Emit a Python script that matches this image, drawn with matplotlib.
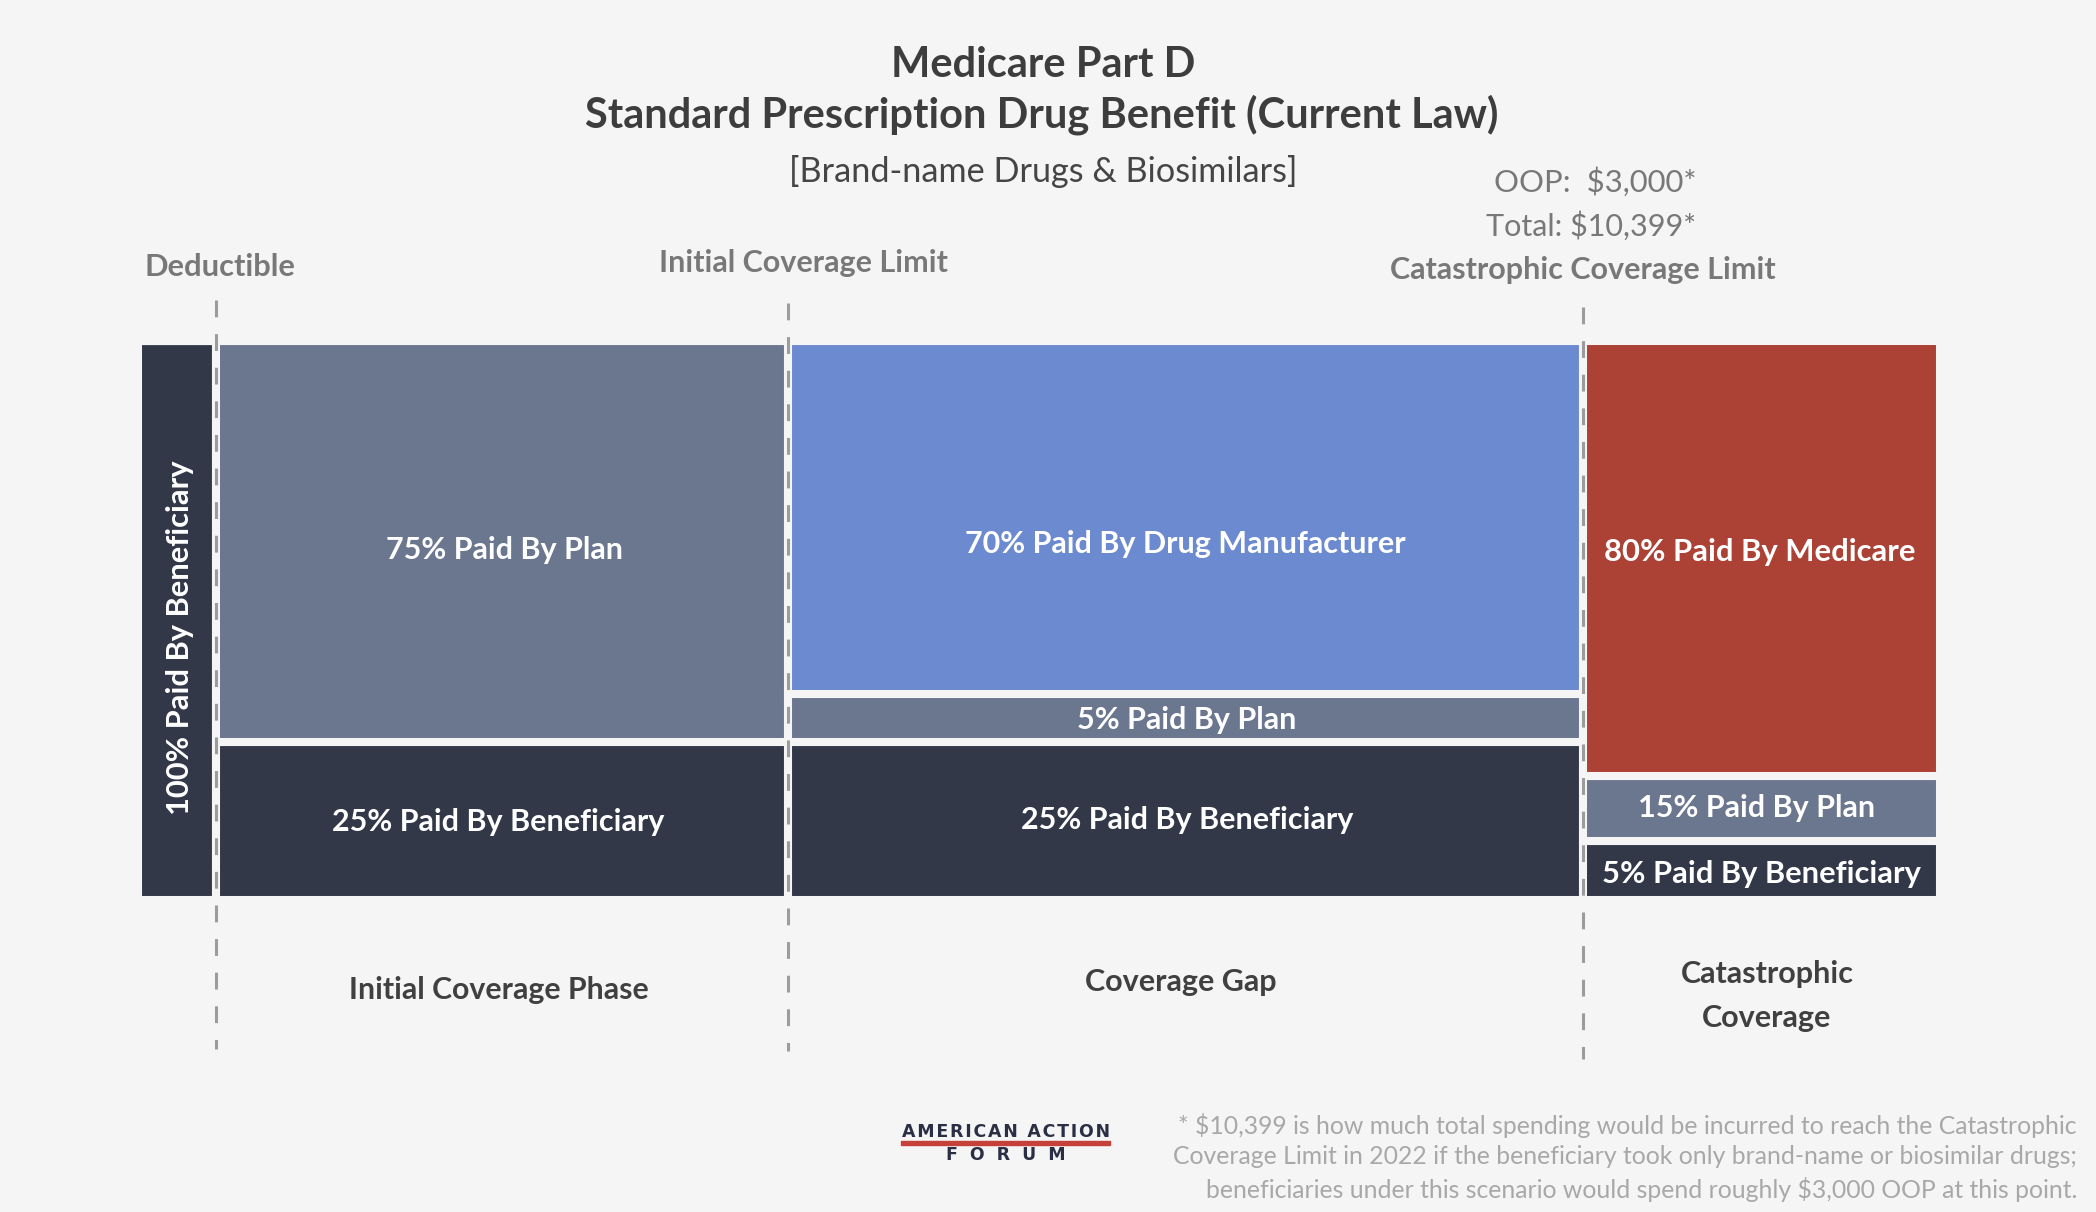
import matplotlib
matplotlib.use('Agg')
import matplotlib.pyplot as plt
import numpy as np

W, H = 2096, 1212
BG = '#f5f5f5'
DARK = '#333849'
SLATE = '#6b768f'
BLUE = '#6c8acf'
RED = '#ac4236'

plt.rcParams['font.family'] = ['Lato', 'DejaVu Sans']

# drawn widths of the phases and drawn heights of the blocks, in % of the whole bar
phases = ['Deductible', 'Initial Coverage Phase', 'Coverage Gap', 'Catastrophic Coverage']
phase_widths = [4.33, 31.74, 44.12, 19.81]
beneficiary = [100, 28.3, 28.3, 10.6]
plan = [0, 71.7, 8.6, 11.6]
manufacturer = [0, 0, 63.1, 0]
medicare = [0, 0, 0, 77.8]
limit_tops = [107.3, 106.8, 106.1]
limit_bottoms = [-26.6, -27.1, -28.4]


def px(x, y):
    return x / W, 1 - y / H


def label(x, y, s, size, color='white', weight='bold', **kw):
    kw.setdefault('ha', 'center')
    fig.text(*px(x, y), s, fontsize=size, color=color, fontweight=weight, va='center', **kw)


def spaced(s):
    return '\u200a'.join(s)


fig = plt.figure(figsize=(W / 100, H / 100), dpi=100, facecolor=BG)
ax = fig.add_axes([138 / W, 1 - 900 / H, 1802 / W, 559 / H])
ax.set_xlim(0, 100)
ax.set_ylim(0, 100)
ax.axis('off')

lefts = np.concatenate([[0], np.cumsum(phase_widths)[:-1]])
bottom = np.zeros(4)
for values, color in [(beneficiary, DARK), (plan, SLATE), (manufacturer, BLUE), (medicare, RED)]:
    values = np.array(values, dtype=float)
    ax.bar(lefts, values, phase_widths, bottom=bottom, align='edge', color=color,
           edgecolor=BG, linewidth=5.8)
    bottom += values

# limit markers, dashed lines over the gaps
for xpos, top, low in zip(lefts[1:], limit_tops, limit_bottoms):
    ax.plot([xpos, xpos], [top, low], color='#9c9c9c', lw=2.2, dashes=(5.5, 5.5), clip_on=False, zorder=5)

TITLE = '#3d3d3d'
label(1043, 65, 'Medicare Part D', 30, TITLE)
label(1042, 115, 'Standard Prescription Drug Benefit (Current Law)', 30, TITLE)
label(1043, 172, '[Brand-name Drugs & Biosimilars]', 24.7, '#454545', 'normal')

GREY = '#787878'
label(1595, 182, 'OOP:  $3,000*', 22.4, GREY, 'normal')
label(1591, 226, 'Total: $10,399*', 22, GREY, 'normal')
label(1583, 270, 'Catastrophic Coverage Limit', 22, GREY)
label(220, 267, 'Deductible', 22.2, GREY)
label(803, 263, 'Initial Coverage Limit', 22, GREY)

label(505, 550, '75% Paid By Plan', 22)
label(1185, 544, '70% Paid By Drug Manufacturer', 22)
label(1760, 552, '80% Paid By Medicare', 22.3)
label(1187, 720, '5% Paid By Plan', 22)
label(498, 822, '25% Paid By Beneficiary', 22)
label(1187, 820, '25% Paid By Beneficiary', 22)
label(1757, 808, '15% Paid By Plan', 22)
label(1761, 874, '5% Paid By Beneficiary', 22.2)
label(180, 638, '100% Paid By Beneficiary', 22.2, rotation=90)

label(499, 990, 'Initial Coverage Phase', 21.8, '#404040')
label(1181, 982, 'Coverage Gap', 22, '#404040')
label(1767, 974, 'Catastrophic', 22, '#404040')
label(1767, 1018, 'Coverage', 22, '#404040')

NOTE = '#a8a8a8'
label(2077, 1125, '* $10,399 is how much total spending would be incurred to reach the Catastrophic', 17.8, NOTE, 'normal', ha='right')
label(2077, 1157, 'Coverage Limit in 2022 if the beneficiary took only brand-name or biosimilar drugs;', 17.8, NOTE, 'normal', ha='right')
label(2077, 1189, 'beneficiaries under this scenario would spend roughly $3,000 OOP at this point.', 17.8, NOTE, 'normal', ha='right')

# logo
label(1006, 1132, spaced('AMERICAN ACTION'), 12.5, '#2b2f45', family='DejaVu Sans')
label(1006, 1155, 'F  O  R  U  M', 12.5, '#2b2f45', family='DejaVu Sans')
fig.add_artist(plt.Rectangle(px(901, 1145), 209 / W, 4 / H, color='#c5413a', transform=fig.transFigure))

fig.savefig('out.png', dpi=100, facecolor=BG)
